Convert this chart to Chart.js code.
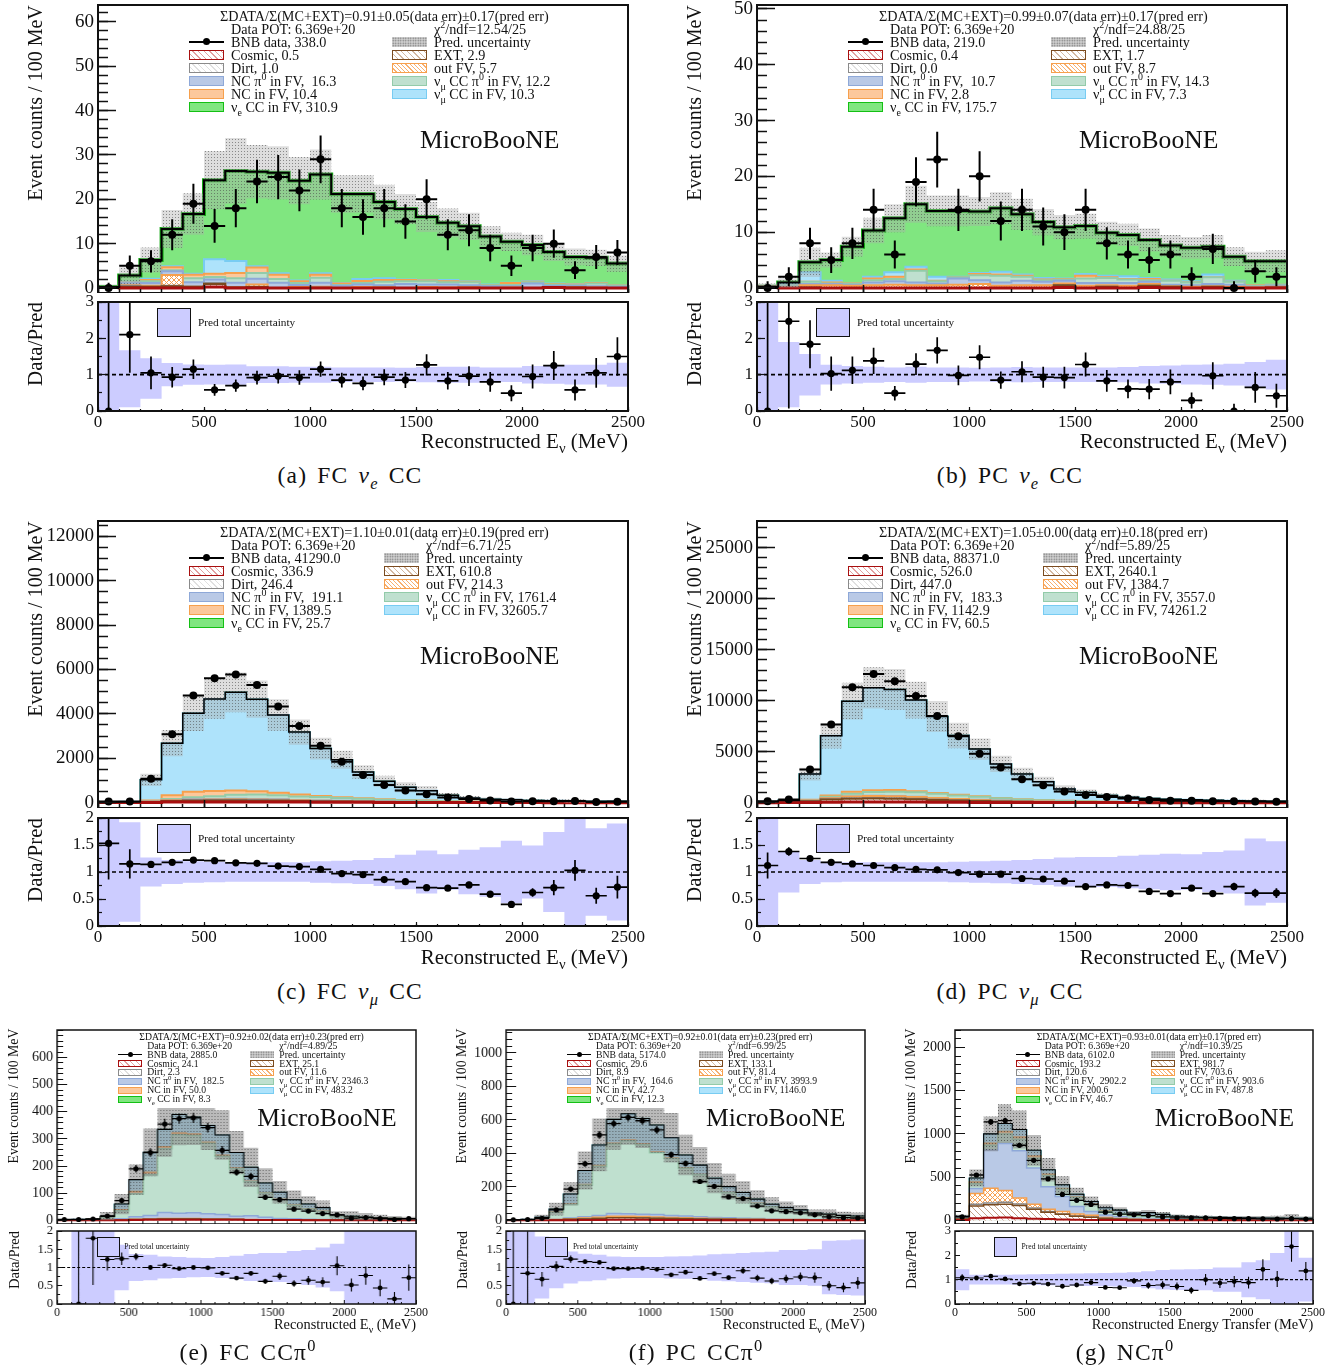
<!DOCTYPE html>
<html>
<head>
<meta charset="utf-8">
<title>MicroBooNE sidebands</title>
<script src="https://cdn.jsdelivr.net/npm/chart.js@4"></script>
<style>
  html, body { margin: 0; background: #fff; }
  #page { position: relative; width: 1339px; height: 1372px; overflow: hidden; font-family: "Liberation Serif", serif; color: #111; }
  #page canvas { position: absolute; }
  .t { position: absolute; white-space: nowrap; line-height: 1; }
  .t sub, .t sup { font-size: 70%; line-height: 0; }
  .sw { position: absolute; box-sizing: border-box; }
</style>
</head>
<body>
<div id="page"></div>
<script>
const binEdges = [0,100,200,300,400,500,600,700,800,900,1000,1100,1200,1300,1400,1500,1600,1700,1800,1900,2000,2100,2200,2300,2400,2500];
const binCenters = [50,150,250,350,450,550,650,750,850,950,1050,1150,1250,1350,1450,1550,1650,1750,1850,1950,2050,2150,2250,2350,2450];
const xTicks = [0,500,1000,1500,2000,2500];
const xMinor = binEdges;

// (a) FC nue CC
const aData = [0,5,6,12,19,14,18,24,25,22,29,18,16,18,15,20,12,13,9,5,9,10,4,7,8];
const aDataErr = [1.2,2.3,2.5,3.5,4.5,3.8,4.3,4.9,5,4.7,5.4,4.3,4,4.3,3.9,4.5,3.5,3.6,3,2.3,3,3.2,2,2.7,2.8];
const aCosmic = [0.1,0,0,0,0,0.2,0,0,0,0,0,0,0,0,0,0,0,0,0,0,0,0.1,0,0,0];
const aExt = [0.1,0.3,0.3,0.4,0.3,0.7,0.1,0.2,0,0,0,0,0,0,0,0,0,0,0,0,0,0.1,0.1,0,0];
const aDirt = [0,0.2,0,0.1,0,0.2,0,0.1,0,0,0.1,0,0,0.1,0,0,0,0.1,0,0,0,0,0,0.1,0];
const aOutFv = [0,0.1,0.2,2.4,0,0,0.1,0.5,0,0.2,0.2,0,0.2,0.1,0,0.2,0.1,0.1,0,0.1,0,0,0.1,0,0];
const aNcPi0 = [0,0.6,0.6,0.9,1,0.8,1,1.3,1.2,0.5,0.9,0.5,0.6,0.4,0.9,0.6,0.7,0.4,0.4,0.3,1,0.3,0.3,0.3,0.3];
const aNumuPi0 = [0,0.1,0.4,0.2,0.9,0.6,1,1.3,0.8,0.4,1.1,0.2,0.3,0.8,0.6,0.7,0.5,0.7,0.2,0.3,0.3,0.3,0.1,0.6,0.3];
const aNc = [0,0,0.3,0.7,0.8,0.7,1.2,1.2,1,0.4,0.7,0.3,0.5,0.4,0.3,0.2,0.2,0.1,0.1,0.4,0.1,0.1,0.2,0.1,0.1];
const aNumu = [0,0.1,0.3,0.2,0.2,3.3,2.7,0.3,0.3,0.2,0.3,0.1,0.4,0.4,0.1,0.1,0.3,0.1,0.1,0.1,0.1,0.1,0.1,0.1,0];
const aNue = [0,1.4,4.2,8.4,13.5,17.8,20.3,21.3,22.7,22.5,22.3,20.1,19.2,17.2,15.9,14.2,12.9,12.4,10.8,9.2,8.2,7.1,6.1,5.6,4.8];
const aRatio = [0,2.1,1.05,0.93,1.15,0.58,0.7,0.92,0.96,0.92,1.15,0.85,0.76,0.93,0.85,1.27,0.83,0.96,0.8,0.49,0.95,1.25,0.58,1.05,1.5];
const aRatioErr = [4,1.05,0.45,0.28,0.27,0.16,0.17,0.19,0.2,0.2,0.21,0.2,0.19,0.22,0.22,0.29,0.24,0.27,0.27,0.22,0.33,0.4,0.29,0.41,0.53];
const aBand = [3,0.67,0.45,0.32,0.28,0.27,0.28,0.23,0.23,0.22,0.22,0.2,0.2,0.2,0.19,0.21,0.22,0.22,0.2,0.2,0.24,0.25,0.27,0.27,0.33];
const aBandLo = [1,0.9,0.66,0.32,0.28,0.27,0.28,0.23,0.23,0.22,0.22,0.2,0.2,0.2,0.19,0.21,0.22,0.22,0.2,0.2,0.24,0.25,0.27,0.27,0.33];
const aYTicks = [0,10,20,30,40,50,60];
const aYMinor = [0,2,4,6,8,10,12,14,16,18,20,22,24,26,28,30,32,34,36,38,40,42,44,46,48,50,52,54,56,58,60,62];
const aLegend = ["338.0","0.5","1.0","16.3","10.4","310.9","2.9","5.7","12.2","10.3"];

// (b) PC nue CC
const bData = [0,2,8,5,8,14,6,19,23,14,20,12,14,11,10,14,8,6,5,6,2,7,0,3,2];
const bDataErr = [1.2,1.7,2.8,2.3,2.8,3.8,2.5,4.4,5,3.8,4.5,3.5,3.8,3.4,3.2,3.8,2.9,2.5,2.3,2.5,1.7,2.7,1.2,2,1.7];
const bCosmic = [0.1,0,0,0,0,0,0,0,0,0,0,0,0,0,0.1,0,0,0,0.1,0,0,0,0,0,0];
const bExt = [0.1,0,0.1,0,0,0,0,0,0,0,0,0,0,0,0.4,0,0.2,0,0.3,0.2,0,0.2,0,0,0.1];
const bDirt = [0,0,0,0,0,0,0,0,0,0,0,0,0,0,0,0,0,0,0,0,0,0,0,0,0];
const bOutFv = [0,0.1,0.4,0.5,0.4,0.5,0.6,0.5,0.5,0.6,0.7,0.4,0.5,0.5,0.3,0.4,0.3,0.4,0.3,0.1,0.2,0.1,0.2,0.1,0.1];
const bNcPi0 = [0,0.1,0.2,0.2,0.2,0.5,0.6,0.5,0.3,1.1,0.7,0.6,0.8,0.6,0.5,0.5,0.4,0.5,0.4,0.3,0.3,0.4,0.4,0.1,0.2];
const bNumuPi0 = [0,0.2,0.4,0.1,0.1,0.4,0.4,2.1,0.4,0.2,0.9,1.2,0.7,0.3,0.2,0.8,0.9,0.6,0.3,0.7,0.5,1.2,0.5,0.2,0.2];
const bNc = [0,0,0,0.2,0.1,0.3,0.4,0.2,0.1,0,0.2,0.2,0.2,0.1,0.1,0.5,0.1,0.1,0.2,0,0,0,0,0.1,0];
const bNumu = [0,0.3,1.7,0.3,0,0.3,0.8,0.5,0.7,0.1,0.2,0.5,0.2,0.3,0.1,0.3,0.3,0.5,0.2,0.2,0.2,0.5,0.2,0,0];
const bNue = [0,0.3,1.8,3.7,6.6,8.3,9.7,11.2,11.8,11.8,11,11.4,10.8,10,9.2,8.6,7.7,7.4,6.8,6.1,6,5,4.3,4.3,4.2];
const bRatio = [0,2.47,1.84,1.03,1.12,1.38,0.49,1.29,1.67,0.98,1.48,0.85,1.08,0.93,0.92,1.28,0.83,0.61,0.6,0.8,0.29,0.97,0,0.65,0.42];
const bRatioErr = [4,2.4,0.66,0.47,0.38,0.36,0.2,0.3,0.36,0.27,0.33,0.24,0.29,0.29,0.3,0.33,0.3,0.26,0.28,0.34,0.22,0.37,0.2,0.42,0.33];
const bBand = [3,0.9,0.57,0.27,0.24,0.22,0.2,0.22,0.2,0.2,0.19,0.2,0.21,0.2,0.2,0.2,0.2,0.21,0.24,0.25,0.27,0.28,0.3,0.35,0.41];
const bBandLo = [1,0.9,0.57,0.27,0.24,0.22,0.2,0.22,0.2,0.2,0.19,0.2,0.21,0.2,0.2,0.2,0.2,0.21,0.24,0.25,0.27,0.28,0.3,0.35,0.41];
const bYTicks = [0,10,20,30,40,50];
const bYMinor = [0,2,4,6,8,10,12,14,16,18,20,22,24,26,28,30,32,34,36,38,40,42,44,46,48,50];
const bLegend = ["219.0","0.4","0.0","10.7","2.8","175.7","1.7","8.7","14.3","7.3"];

// (c) FC numu CC
const cData = [50,55,1080,3080,4830,5600,5770,5300,4330,3450,2560,1840,1250,800,550,380,230,160,95,55,60,60,75,35,45];
const cDataErr = [10,10,33,55,70,75,76,73,66,59,51,43,35,28,23,20,15,13,10,8,8,8,9,6,7];
const cCosmic = [5,4,10,25,30,32,35,32,30,25,22,18,14,12,9,8,6,5,4,3,3,2,2,1,1];
const cExt = [10,10,25,50,60,65,65,60,55,45,35,30,25,20,15,12,9,6,5,4,3,3,2,1,1];
const cDirt = [2,3,8,15,25,25,30,30,25,18,15,12,9,7,5,4,3,2,2,1,1,1,1,0,0];
const cOutFv = [1,2,5,15,18,20,22,25,20,18,15,12,10,7,5,4,3,2,2,1,1,1,1,1,1];
const cNcPi0 = [0,1,5,12,16,20,22,22,20,17,14,11,8,6,5,3,3,2,1,1,1,1,0,0,0];
const cNumuPi0 = [0,1,10,45,90,130,180,195,180,160,150,130,110,85,70,60,40,30,25,20,15,15,10,5,5];
const cNc = [0,3,40,170,250,230,190,150,115,80,55,35,20,12,8,6,4,3,3,2,2,2,2,2,2];
const cNumu = [12,16,927,2350,3540,4150,4425,4145,3505,2815,2130,1680,1180,810,580,435,260,160,115,100,75,65,55,50,50];
const cNue = [0,0,0,0,1,1,2,2,2,2,2,2,2,1,1,1,1,1,1,1,1,1,1,0,0];
const cRatio = [1.53,1.15,1.14,1.18,1.22,1.21,1.17,1.16,1.11,1.1,1.05,0.97,0.95,0.86,0.82,0.71,0.7,0.76,0.59,0.4,0.62,0.71,1.03,0.56,0.72];
const cRatioErr = [0.67,0.27,0.04,0.03,0.03,0.02,0.02,0.02,0.02,0.02,0.03,0.03,0.03,0.04,0.04,0.04,0.05,0.06,0.06,0.05,0.08,0.14,0.19,0.15,0.21];
const cBand = [1.1,0.92,0.27,0.22,0.2,0.19,0.18,0.18,0.18,0.18,0.2,0.21,0.22,0.26,0.32,0.4,0.33,0.41,0.46,0.58,0.49,0.74,1.1,0.81,0.9];
const cYTicks = [0,2000,4000,6000,8000,10000,12000];
const cYMinor = [0,500,1000,1500,2000,2500,3000,3500,4000,4500,5000,5500,6000,6500,7000,7500,8000,8500,9000,9500,10000,10500,11000,11500,12000,12500];
const cLegend = ["41290.0","336.9","246.4","191.1","1389.5","25.7","610.8","214.3","1761.4","32605.7"];

// (d) PC numu CC
const dData = [130,300,3250,7650,11300,12600,11900,10450,8500,6500,4800,3450,2300,1700,1100,750,550,410,260,200,195,140,145,105,90];
const dDataErr = [12,18,57,87,106,112,109,102,92,80,69,59,48,41,33,27,23,20,16,14,14,12,12,10,9];
const dCosmic = [5,8,20,40,55,60,60,55,45,35,30,25,20,15,10,8,7,6,5,4,4,3,3,2,1];
const dExt = [25,40,130,260,340,350,330,280,220,170,130,90,70,50,35,30,20,15,12,10,10,8,6,6,3];
const dDirt = [2,5,15,30,45,55,55,50,45,35,30,22,15,10,8,6,5,4,3,3,2,1,1,0,0];
const dOutFv = [2,8,40,110,160,190,185,165,140,110,85,60,40,30,18,12,9,6,5,4,3,3,2,1,1];
const dNcPi0 = [0,1,5,12,18,22,22,20,18,15,12,9,7,6,5,3,2,2,1,1,1,1,0,0,0];
const dNumuPi0 = [0,2,30,130,260,370,430,440,400,350,300,230,170,130,95,70,45,30,20,15,10,10,8,6,6];
const dNc = [0,5,45,120,190,180,150,120,90,70,50,35,25,20,15,12,8,6,4,3,2,2,1,0,0];
const dNumu = [66,151,2514,5846,8879,10019,9863,8915,7487,5790,4608,3325,2449,1786,1151,857,602,469,349,289,247,201,179,155,139];
const dNue = [0,0,1,2,3,4,5,5,5,5,5,4,4,3,3,2,2,2,1,1,1,1,0,0,0];
const dRatio = [1.12,1.38,1.25,1.18,1.15,1.12,1.08,1.05,1.04,0.99,0.96,0.96,0.88,0.87,0.83,0.73,0.76,0.75,0.64,0.6,0.7,0.6,0.73,0.61,0.61];
const dRatioErr = [0.24,0.08,0.03,0.02,0.02,0.02,0.02,0.02,0.02,0.02,0.02,0.02,0.03,0.03,0.03,0.03,0.04,0.04,0.04,0.04,0.05,0.05,0.07,0.08,0.09];
const dBand = [1.1,0.38,0.22,0.19,0.18,0.18,0.18,0.18,0.18,0.19,0.2,0.21,0.22,0.24,0.27,0.28,0.28,0.3,0.32,0.34,0.33,0.37,0.4,0.62,0.57];
const dYTicks = [0,5000,10000,15000,20000,25000];
const dYMinor = [0,1000,2000,3000,4000,5000,6000,7000,8000,9000,10000,11000,12000,13000,14000,15000,16000,17000,18000,19000,20000,21000,22000,23000,24000,25000,26000,27000];
const dLegend = ["88371.0","526.0","447.0","183.3","1142.9","60.5","2640.1","1384.7","3557.0","74261.2"];

// (e) FC CC pi0
const eData = [3,3,5,16,73,190,250,355,375,378,342,258,177,162,85,76,41,34,25,20,8,10,6,3,6];
const eDataErr = [1.5,1.5,2,4,9,14,16,19,19,19,18,16,13,13,9,9,6,6,5,4.5,3,3,2.5,2,2.5];
const eCosmic = [0,0,0,0,0.5,1,2,2,2,2,2,2,2,1.5,1,1,1,0.5,0.5,0.5,0.5,0.5,0.5,0.5,0.5];
const eExt = [0,0,0,0.5,1,2,2,3,3,3,2,2,1.5,1,0.5,0.5,0.5,0.5,0.5,0.5,0.5,0.5,0.5,0.5,0.5];
const eDirt = [0,0,0,0,0,0.2,0.2,0.3,0.3,0.3,0.2,0.2,0.1,0.1,0.1,0.1,0.1,0,0,0,0,0,0,0,0];
const eOutFv = [0,0,0,0,0.2,0.8,1,1.5,1.5,1.5,1,1,0.6,0.5,0.4,0.3,0.2,0.1,0,0,0,0,0,0,0];
const eNcPi0 = [0,0,0,1,4,9,13,22,19,21,19,16,11,14,9,5,4,3,2,2,1,1,0.5,0.5,0.5];
const eNumuPi0 = [1,2,3,9,30,85,150,235,290,285,260,215,175,125,90,70,50,38,30,12,9,8,6,5,4];
const eNc = [0,0,0,1,3,8,9,7,6,5,4,4,3,2,1,1,0.5,0.5,0.5,0,0,0,0,0,0];
const eNumu = [1,1,1,3,21,44,73,64,68,62,61,74,56,51,35,25,19,17,13,5,4,2,1.5,0.5,0.5];
const eNue = [0,0,0,0.2,0.3,0.2,0.3,0.5,0.6,0.6,0.6,0.6,0.6,0.5,0.4,0.4,0.4,0.4,0.4,0.2,0.2,0.2,0.2,0.1,0.1];
const eRatio = [null,0,1.8,1.22,1.24,1.3,1,1.06,0.97,1,0.99,0.84,0.71,0.84,0.62,0.76,0.56,0.65,0.6,1.05,0.52,0.78,0.44,0.14,0.72];
const eRatioErr = [0,3,1.28,0.3,0.17,0.1,0.06,0.05,0.04,0.04,0.04,0.05,0.05,0.06,0.07,0.1,0.09,0.12,0.13,0.26,0.18,0.25,0.23,0.19,0.36];
const eBand = [0,1.2,1.2,1.1,0.62,0.37,0.35,0.3,0.29,0.27,0.26,0.29,0.32,0.37,0.4,0.4,0.45,0.48,0.55,0.65,1.2,1.2,1.2,1.2,1.2];
const eYTicks = [0,100,200,300,400,500,600];
const eYMinor = [0,20,40,60,80,100,120,140,160,180,200,220,240,260,280,300,320,340,360,380,400,420,440,460,480,500,520,540,560,580,600,620,640,660,680,700];
const eLegend = ["2885.0","24.1","2.3","182.5","50.0","8.3","25.1","11.6","2346.3","483.2"];

// (f) PC CC pi0
const fData = [3,5,12,62,187,338,510,578,615,595,540,392,340,232,203,140,130,85,57,52,45,33,21,16,14];
const fDataErr = [2,2.5,3.5,8,14,18,23,24,25,24,23,20,18,15,14,12,11,9,7.5,7,6.5,5.5,4.5,4,3.7];
const fCosmic = [0,0,0,0.5,1,1.5,2,3,3,3,2.5,2,2,1.5,1,1,1,0.5,0.5,0.5,0.5,0.5,0.5,0.5,0.5];
const fExt = [1,1,2,3,5,7,9,12,12,11,10,9,8,7,6,5,4,4,3,3,3,2,2,2,2];
const fDirt = [0,0,0,0.1,0.3,0.5,0.6,0.9,0.9,0.8,0.7,0.7,0.6,0.5,0.4,0.3,0.3,0.2,0.2,0.1,0.1,0.1,0,0,0];
const fOutFv = [0,0,0.5,1,3,5,7,9,9,8,7,6,5,4,3,3,2,2,2,1,1,1,1,0.5,0.5];
const fNcPi0 = [0,0,0.5,2,4,7,10,16,15,14,14,12,10,9,7,6,5,4,3,2,2,1,1,1,1];
const fNumuPi0 = [1,2,10,42,82,190,295,415,435,415,370,340,285,250,190,150,120,90,72,55,45,30,25,20,18];
const fNc = [0,0,0,1,2,3,4,5,5,5,4,3,2,2,1,1,1,1,0.5,0.5,0.5,0.5,0.5,0.5,0.2];
const fNumu = [1,2,5,17,60,83,122,141,156,151,160,120,77,55,43,35,33,25,15,14,10,8,7,5,4];
const fNue = [0,0,0,0.3,0.5,0.5,0.8,1,1.1,1,1,1,0.8,0.6,0.5,0.4,0.4,0.3,0.3,0.2,0.2,0.2,0.1,0.1,0.1];
const fRatio = [0,0.84,0.68,1.03,1.23,1.16,1.14,0.97,0.97,0.98,0.95,0.8,0.87,0.7,0.83,0.72,0.91,0.71,0.63,0.69,0.74,0.72,0.5,0.45,0.58];
const fRatioErr = [4,1.15,0.2,0.14,0.1,0.06,0.05,0.04,0.04,0.04,0.04,0.04,0.04,0.04,0.05,0.06,0.08,0.09,0.09,0.11,0.12,0.14,0.13,0.13,0.16];
const fBand = [1.2,1.2,0.85,0.57,0.44,0.38,0.35,0.3,0.29,0.29,0.29,0.3,0.31,0.33,0.36,0.38,0.4,0.42,0.43,0.48,0.48,0.5,0.73,0.75,0.77];
const fYTicks = [0,200,400,600,800,1000];
const fYMinor = [0,40,80,120,160,200,240,280,320,360,400,440,480,520,560,600,640,680,720,760,800,840,880,920,960,1000,1040,1080,1120];
const fLegend = ["5174.0","29.6","8.9","164.6","42.7","12.3","133.1","81.4","3993.9","1146.0"];

// (g) NC pi0
const gData = [40,525,1140,1155,870,695,480,300,232,185,95,72,65,55,40,30,28,28,22,20,20,18,16,20,15];
const gDataErr = [6,23,34,34,30,26,22,17,15,14,10,8.5,8,7.5,6.3,5.5,5.3,5.3,4.7,4.5,4.5,4.2,4,4.5,3.9];
const gCosmic = [3,26,30,32,26,20,15,10,7,5,4,3,2,2,1,1,1,1,1,1,1,0.5,0.5,0.5,0.5];
const gExt = [12,140,150,155,145,110,80,60,40,30,18,12,8,6,5,4,3,3,3,2,2,2,2,2,2];
const gDirt = [1,20,22,22,18,12,8,5,4,3,2,1,1,0.5,0.5,0.5,0.5,0.5,0.5,0,0,0,0,0,0];
const gOutFv = [3,125,170,137,69,46,27,29,22,20,8,5,3,3,2,2,1,1,1,1,1,1,1,1,1];
const gNcPi0 = [10,58,443,544,547,417,260,173,87,46,30,20,12,10,8,5,4,3,3,2,2,2,2,2,2];
const gNumuPi0 = [5,55,55,110,135,115,130,83,105,81,45,35,25,25,20,14,10,8,6,5,4,3,3,2,2];
const gNc = [2,20,22,30,25,25,15,10,5,5,3,2,2,2,2,1,1,1,1,1,1,1,1,1,1];
const gNumu = [10,45,108,89,85,64,49,40,31,28,35,40,30,40,30,20,20,18,18,20,18,17,16,15,15];
const gNue = [0,1,1,2,2,2,2,2,2,1,1,1,1,1,1,1,1,1,1,1,1,1,0.5,0.5,0.5];
const gRatio = [1.08,1.07,1.14,1.03,0.83,0.85,0.82,0.73,0.78,0.88,0.68,0.67,0.95,0.76,0.78,0.72,0.56,1,0.86,0.92,0.88,1.42,1.03,2.36,1.36];
const gRatioErr = [0.14,0.05,0.04,0.03,0.03,0.03,0.04,0.04,0.05,0.07,0.06,0.06,0.12,0.13,0.15,0.16,0.14,0.23,0.2,0.23,0.24,0.42,0.33,0.62,0.37];
const gBand = [0.43,0.2,0.2,0.2,0.21,0.22,0.23,0.24,0.25,0.26,0.27,0.28,0.3,0.35,0.4,0.42,0.43,0.44,0.5,0.5,0.72,0.8,1.1,2.1,0.9];
const gYTicks = [0,500,1000,1500,2000];
const gYMinor = [0,100,200,300,400,500,600,700,800,900,1000,1100,1200,1300,1400,1500,1600,1700,1800,1900,2000,2100,2200];
const gLegend = ["6102.0","193.2","120.6","2902.2","200.6","46.7","981.7","703.6","903.6","487.8"];

const ratio3Ticks = [0,1,2,3];
const ratio3Minor = [0,0.5,1,1.5,2,2.5,3];
const ratio2Ticks = [0,0.5,1,1.5,2];
const ratio2Minor = [0,0.25,0.5,0.75,1,1.25,1.5,1.75,2];

const evLabel = 'Reconstructed E<sub>ν</sub> (MeV)';

// one entry per sub figure, layers go bottom to top of the stack
const panels = [
  { layers:[aCosmic,aExt,aDirt,aOutFv,aNcPi0,aNumuPi0,aNc,aNumu,aNue], data:aData, err:aDataErr, ratio:aRatio, ratioErr:aRatioErr, band:aBand, bandLo:aBandLo, yTicks:aYTicks, yMinor:aYMinor, ratioTicks:ratio3Ticks, ratioMinor:ratio3Minor, ymin:-1.13, ymax:63.8, rmax:3, legend:aLegend,
    head:'ΣDATA/Σ(MC+EXT)=0.91±0.05(data err)±0.17(pred err)', chi:'χ<sup>2</sup>/ndf=12.54/25', xTitle:evLabel, caption:'(a) FC <i>ν<sub>e</sub></i> CC',
    box:{l:98,w:530,t:5,h:288,rt:302,rh:109,capY:476,capX:350,xtY:441,ytX:34.5,rightSw:294,big:true,nueW:4} },
  { layers:[bCosmic,bExt,bDirt,bOutFv,bNcPi0,bNumuPi0,bNc,bNumu,bNue], data:bData, err:bDataErr, ratio:bRatio, ratioErr:bRatioErr, band:bBand, bandLo:bBandLo, yTicks:bYTicks, yMinor:bYMinor, ratioTicks:ratio3Ticks, ratioMinor:ratio3Minor, ymin:-0.9, ymax:50.7, rmax:3, legend:bLegend,
    head:'ΣDATA/Σ(MC+EXT)=0.99±0.07(data err)±0.17(pred err)', chi:'χ<sup>2</sup>/ndf=24.88/25', xTitle:evLabel, caption:'(b) PC <i>ν<sub>e</sub></i> CC',
    box:{l:757,w:530,t:5,h:288,rt:302,rh:109,capY:476,capX:1010,xtY:441,ytX:693.5,rightSw:294,big:true,nueW:4} },
  { layers:[cCosmic,cExt,cDirt,cOutFv,cNcPi0,cNumuPi0,cNc,cNumu,cNue], data:cData, err:cDataErr, ratio:cRatio, ratioErr:cRatioErr, band:cBand, yTicks:cYTicks, yMinor:cYMinor, ratioTicks:ratio2Ticks, ratioMinor:ratio2Minor, ymin:-240, ymax:12690, rmax:2, legend:cLegend,
    head:'ΣDATA/Σ(MC+EXT)=1.10±0.01(data err)±0.19(pred err)', chi:'χ<sup>2</sup>/ndf=6.71/25', xTitle:evLabel, caption:'(c) FC <i>ν<sub>μ</sub></i> CC',
    box:{l:98,w:530,t:521,h:287,rt:818,rh:108,capY:992,capX:350,xtY:957,ytX:34.5,rightSw:286,big:true,nueW:0} },
  { layers:[dCosmic,dExt,dDirt,dOutFv,dNcPi0,dNumuPi0,dNc,dNumu,dNue], data:dData, err:dDataErr, ratio:dRatio, ratioErr:dRatioErr, band:dBand, yTicks:dYTicks, yMinor:dYMinor, ratioTicks:ratio2Ticks, ratioMinor:ratio2Minor, ymin:-521, ymax:27600, rmax:2, legend:dLegend,
    head:'ΣDATA/Σ(MC+EXT)=1.05±0.00(data err)±0.18(pred err)', chi:'χ<sup>2</sup>/ndf=5.89/25', xTitle:evLabel, caption:'(d) PC <i>ν<sub>μ</sub></i> CC',
    box:{l:757,w:530,t:521,h:287,rt:818,rh:108,capY:992,capX:1010,xtY:957,ytX:693.5,rightSw:286,big:true,nueW:0} },
  { layers:[eCosmic,eExt,eDirt,eOutFv,eNcPi0,eNumuPi0,eNc,eNumu,eNue], data:eData, err:eDataErr, ratio:eRatio, ratioErr:eRatioErr, band:eBand, yTicks:eYTicks, yMinor:eYMinor, ratioTicks:ratio2Ticks, ratioMinor:ratio2Minor, ymin:-13.5, ymax:701.6, rmax:2, legend:eLegend,
    head:'ΣDATA/Σ(MC+EXT)=0.92±0.02(data err)±0.23(pred err)', chi:'χ<sup>2</sup>/ndf=4.89/25', xTitle:evLabel, caption:'(e) FC CCπ<sup>0</sup>',
    box:{l:57.3,w:358.7,t:1030,h:194,rt:1231,rh:73,capY:1353,capX:248,xtY:1324,ytX:14,rightSw:193,big:false,nueW:0} },
  { layers:[fCosmic,fExt,fDirt,fOutFv,fNcPi0,fNumuPi0,fNc,fNumu,fNue], data:fData, err:fDataErr, ratio:fRatio, ratioErr:fRatioErr, band:fBand, yTicks:fYTicks, yMinor:fYMinor, ratioTicks:ratio2Ticks, ratioMinor:ratio2Minor, ymin:-21.8, ymax:1137, rmax:2, legend:fLegend,
    head:'ΣDATA/Σ(MC+EXT)=0.92±0.01(data err)±0.23(pred err)', chi:'χ<sup>2</sup>/ndf=6.99/25', xTitle:evLabel, caption:'(f) PC CCπ<sup>0</sup>',
    box:{l:506,w:358.7,t:1030,h:194,rt:1231,rh:73,capY:1353,capX:696,xtY:1324,ytX:462,rightSw:193,big:false,nueW:0} },
  { layers:[gCosmic,gExt,gDirt,gOutFv,gNcPi0,gNumuPi0,gNc,gNumu,gNue], data:gData, err:gDataErr, ratio:gRatio, ratioErr:gRatioErr, band:gBand, yTicks:gYTicks, yMinor:gYMinor, ratioTicks:ratio3Ticks, ratioMinor:ratio3Minor, ymin:-42, ymax:2204, rmax:3, legend:gLegend,
    head:'ΣDATA/Σ(MC+EXT)=0.93±0.01(data err)±0.17(pred err)', chi:'χ<sup>2</sup>/ndf=10.39/25', xTitle:'Reconstructed Energy Transfer (MeV)', caption:'(g) NCπ<sup>0</sup>',
    box:{l:954.7,w:358.6,t:1030,h:194,rt:1231,rh:73,capY:1353,capX:1125,xtY:1324,ytX:911,rightSw:196,big:false,nueW:0} }
];

const page = document.getElementById('page');

function hatchPattern(color) {
  const c = document.createElement('canvas');
  const g = c.getContext('2d');
  c.width = 6; c.height = 6;
  g.fillStyle = '#fff';
  g.fillRect(0, 0, 6, 6);
  g.strokeStyle = color;
  g.lineWidth = 0.8;
  g.beginPath();
  g.moveTo(-1, -1); g.lineTo(7, 7);
  g.moveTo(5, -1); g.lineTo(7, 1);
  g.moveTo(-1, 5); g.lineTo(1, 7);
  g.stroke();
  return g.createPattern(c, 'repeat');
}

function crossPattern(color) {
  const c = document.createElement('canvas');
  const g = c.getContext('2d');
  c.width = 5; c.height = 5;
  g.fillStyle = '#fff';
  g.fillRect(0, 0, 5, 5);
  g.strokeStyle = color;
  g.lineWidth = 1;
  g.beginPath();
  g.moveTo(0, 0); g.lineTo(5, 5);
  g.moveTo(5, 0); g.lineTo(0, 5);
  g.stroke();
  return g.createPattern(c, 'repeat');
}

function dotsPattern(light, dark) {
  const c = document.createElement('canvas');
  const g = c.getContext('2d');
  c.width = 3; c.height = 3;
  g.fillStyle = light;
  g.fillRect(0, 0, 3, 3);
  g.fillStyle = dark;
  g.fillRect(0, 0, 1, 1);
  return g.createPattern(c, 'repeat');
}

const dotBig = dotsPattern('rgba(170,170,170,0.4)', 'rgba(70,70,70,0.55)');
const dotSmall = dotsPattern('rgba(130,130,130,0.55)', 'rgba(60,60,60,0.65)');
const layerStyles = [
  { line:'#a80f0f', fill:hatchPattern('#d88080') },
  { line:'#7a4a1e', fill:hatchPattern('#b58a68') },
  { line:'#8a8a8a', fill:hatchPattern('#d2d2d2') },
  { line:'#f6a04d', fill:crossPattern('#f8a050') },
  { line:'#8ea8d8', fill:'#b9c9e6' },
  { line:'#93cba9', fill:'#bfe0cf' },
  { line:'#f6a04d', fill:'#fcc89c' },
  { line:'#78ccf2', fill:'#aee3fb' },
  { line:'#14a814', fill:'#80e680' }
];

function stepPoints(vals) {
  return binEdges.map((x, i) => ({ x: x, y: i < vals.length ? vals[i] : vals[vals.length - 1] }));
}

// error bars as one line dataset, broken with null points
function errorPoints(vals, errs) {
  const pts = [];
  binCenters.forEach((x, i) => {
    if (vals[i] === null) return;
    pts.push({ x: x - 50, y: vals[i] }, { x: x + 50, y: vals[i] }, { x: x, y: null });
    pts.push({ x: x, y: Math.max(0, vals[i] - errs[i]) }, { x: x, y: vals[i] + errs[i] }, { x: x, y: null });
  });
  return pts;
}

const framePlugin = {
  id: 'frame',
  afterDraw(chart, args, opts) {
    const a = chart.chartArea, g = chart.ctx;
    g.save();
    g.strokeStyle = opts.color;
    g.lineWidth = opts.width;
    g.strokeRect(a.left, a.top, a.right - a.left, a.bottom - a.top);
    g.restore();
  }
};

function noPadding(s) {
  s.paddingLeft = 0; s.paddingRight = 0; s.paddingTop = 0; s.paddingBottom = 0;
}

function makeScales(yMaj, yMin, yLo, yHi, cfg) {
  const axisX = (major) => ({
    type: 'linear', position: 'bottom', min: 0, max: 2500, weight: major ? 0 : -1,
    afterBuildTicks: s => { s.ticks = (major ? xTicks : xMinor).map(v => ({ value: v })); },
    afterFit: s => { s.height = major ? cfg.bottom : 0; noPadding(s); },
    border: { display: false },
    grid: { drawOnChartArea: false, z: 2, tickLength: -(major ? cfg.xMaj : cfg.xMin), tickColor: '#111', tickWidth: cfg.tickW },
    ticks: { display: major && cfg.xLabels, autoSkip: false, maxRotation: 0, padding: cfg.xMaj + cfg.xPad, color: '#111', font: { family: 'Liberation Serif', size: cfg.xFont }, callback: v => String(v) }
  });
  const axisY = (major) => ({
    type: 'linear', position: 'left', min: yLo, max: yHi, weight: major ? 0 : -1,
    afterBuildTicks: s => { s.ticks = (major ? yMaj : yMin).filter(v => v <= yHi).map(v => ({ value: v })); },
    afterFit: s => { s.width = major ? cfg.left : 0; noPadding(s); },
    border: { display: false },
    grid: { drawOnChartArea: false, z: 2, tickLength: -(major ? cfg.yMaj : cfg.yMin), tickColor: '#111', tickWidth: cfg.tickW },
    ticks: { display: major, autoSkip: false, padding: cfg.yMaj + 4, color: '#111', font: { family: 'Liberation Serif', size: cfg.yFont }, callback: v => String(v) }
  });
  return { x: axisX(true), xm: axisX(false), y: axisY(true), ym: axisY(false) };
}

function addCanvas(l, t, w, h) {
  const c = document.createElement('canvas');
  c.width = w; c.height = h;
  c.style.left = l + 'px'; c.style.top = t + 'px';
  c.style.width = w + 'px'; c.style.height = h + 'px';
  page.appendChild(c);
  return c;
}

function baseOptions(scales, frameW) {
  return {
    responsive: false, animation: false, devicePixelRatio: 1,
    layout: { autoPadding: false, padding: { left: 0, top: 10, right: 24, bottom: 0 } },
    plugins: { legend: { display: false }, tooltip: { enabled: false }, frame: { color: '#111', width: frameW } },
    elements: { point: { radius: 0 } },
    scales: scales
  };
}

function layerWidth(b, i) {
  if (i === 8) return b.nueW || (b.big ? 1.5 : 1);
  if (i === 0) return b.big ? 3 : 2;
  return b.big ? 2 : 1.5;
}

function drawMain(p) {
  const b = p.box, big = b.big;
  const cum = [];
  const total = p.layers.reduce((run, vals) => {
    const next = vals.map((v, i) => run[i] + v);
    cum.push(next);
    return next;
  }, binCenters.map(() => 0));

  const datasets = [
    { data: binCenters.map((x, i) => ({ x: x, y: p.data[i] })), showLine: false, pointRadius: big ? 4 : 2.6, pointBackgroundColor: '#000', pointBorderWidth: 0 },
    { data: errorPoints(p.data, p.err), stepped: true, borderColor: '#000', borderWidth: big ? 2 : 1.3, spanGaps: false },
    { data: stepPoints(total), stepped: true, borderColor: '#000', borderWidth: big ? (b.nueW ? 2 : 1.5) : 1.1 },
    { data: stepPoints(total.map((t, i) => t * (1 + p.band[i]))), stepped: true, borderWidth: 0, backgroundColor: big ? dotBig : dotSmall, fill: '+1' },
    { data: stepPoints(total.map((t, i) => Math.max(0, t * (1 - p.band[i])))), stepped: true, borderWidth: 0 }
  ];
  for (let i = 0; i < cum.length; i++) {
    datasets.push({ data: stepPoints(cum[i]), stepped: true, borderColor: layerStyles[i].line, backgroundColor: layerStyles[i].fill, borderWidth: layerWidth(b, i), fill: 'origin' });
  }

  const cfg = big
    ? { left: 64, bottom: 0, xMaj: 8, xMin: 4, yMaj: 18, yMin: 10, tickW: 1.5, xPad: 2, xFont: 17, yFont: 19, xLabels: false }
    : { left: 50, bottom: 0, xMaj: 5, xMin: 3, yMaj: 10, yMin: 6, tickW: 1, xPad: 2, xFont: 12, yFont: 14, xLabels: false };
  const w = cfg.left + b.w + 24;
  const c = addCanvas(b.l - cfg.left, b.t - 10, w, b.h + 10);
  new Chart(c.getContext('2d'), {
    type: 'line',
    data: { datasets: datasets },
    options: baseOptions(makeScales(p.yTicks, p.yMinor, p.ymin, p.ymax, cfg), big ? 2 : 1.5),
    plugins: [framePlugin]
  });
}

function drawRatio(p) {
  const b = p.box, big = b.big;
  const lo = p.bandLo || p.band;
  const datasets = [
    { data: binCenters.map((x, i) => ({ x: x, y: p.ratio[i] })), showLine: false, pointRadius: big ? 3.6 : 2.4, pointBackgroundColor: '#000', pointBorderWidth: 0 },
    { data: errorPoints(p.ratio, p.ratioErr), stepped: true, borderColor: '#000', borderWidth: big ? 1.7 : 1.1, spanGaps: false },
    { data: [{ x: 0, y: 1 }, { x: 2500, y: 1 }], borderColor: '#000', borderWidth: big ? 1.7 : 1.1, borderDash: big ? [4, 3] : [3, 2] },
    { data: stepPoints(p.band.map(v => 1 + v)), stepped: true, borderWidth: 0, backgroundColor: '#ccccff', fill: '+1' },
    { data: stepPoints(lo.map(v => 1 - v)), stepped: true, borderWidth: 0 }
  ];
  const cfg = big
    ? { left: 64, bottom: 30, xMaj: 4, xMin: 2, yMaj: 8, yMin: 4, tickW: 1.2, xPad: 1, xFont: 17, yFont: 17, xLabels: true }
    : { left: 50, bottom: 20, xMaj: 4, xMin: 2, yMaj: 5, yMin: 3, tickW: 1, xPad: 2, xFont: 12, yFont: 12.5, xLabels: true };
  const w = cfg.left + b.w + 24;
  const c = addCanvas(b.l - cfg.left, b.rt - 10, w, b.rh + 10 + cfg.bottom);
  new Chart(c.getContext('2d'), {
    type: 'line',
    data: { datasets: datasets },
    options: baseOptions(makeScales(p.ratioTicks, p.ratioMinor, 0, p.rmax, cfg), big ? 2 : 1.5),
    plugins: [framePlugin]
  });
}

function addText(html, x, y, size, align, rotate) {
  const d = document.createElement('div');
  d.className = 't';
  d.innerHTML = html;
  d.style.left = x + 'px';
  d.style.top = y + 'px';
  d.style.fontSize = size + 'px';
  const tx = align === 'right' ? '-100%' : align === 'center' ? '-50%' : '0';
  d.style.transform = 'translate(' + tx + ',-50%)' + (rotate ? ' rotate(-90deg)' : '');
  page.appendChild(d);
  return d;
}

function addSwatch(x, y, w, h, css) {
  const d = document.createElement('div');
  d.className = 'sw';
  d.style.left = x + 'px'; d.style.top = y + 'px';
  d.style.width = w + 'px'; d.style.height = h + 'px';
  d.style.cssText += css;
  page.appendChild(d);
  return d;
}

const hatch = c => 'background:repeating-linear-gradient(45deg,#fff 0,#fff 3px,' + c + ' 3px,' + c + ' 4px);';
const swatchCss = {
  cosmic: 'border-color:#a80f0f;' + hatch('#e4a0a0'),
  dirt: 'border-color:#8a8a8a;' + hatch('#e0e0e0'),
  ncpi0: 'border-color:#8ea8d8;background:#b9c9e6;',
  nc: 'border-color:#f6a04d;background:#fcc89c;',
  nue: 'border-color:#14c014;background:#80e680;',
  ext: 'border-color:#7a4a1e;' + hatch('#d4b8a0'),
  outfv: 'border-color:#f6a04d;background:repeating-linear-gradient(45deg,#fff 0,#fff 2px,#f8b070 2px,#f8b070 3px),#fff;',
  numupi0: 'border-color:#93cba9;background:#bfe0cf;',
  numu: 'border-color:#78ccf2;background:#aee3fb;',
  unc: 'background:radial-gradient(#777 0.7px,transparent 0.9px) 0 0/2.5px 2.5px,#cfcfcf;'
};

function drawText(p) {
  const b = p.box, big = b.big;
  const f = big ? 14.2 : 9.7;
  const rows = big ? [11, 23.8, 36.8, 49.8, 62.8, 75.6, 88.6, 101.6] : [6.7, 15.7, 24.7, 33.7, 42, 51, 60, 69];
  const tl = big ? 133 : 90;
  const sl = big ? 91 : 61;
  const sw = big ? 35 : 24;
  const sh = big ? 10 : 7;
  const sr = b.rightSw;
  const tr = sr + (big ? 42 : 29);
  const L = p.legend;
  const edge = 'border-style:solid;border-width:' + (big ? 1.5 : 1) + 'px;';

  // legend box is opaque, it hides the top of the uncertainty band
  addSwatch(b.l + sl - 5, b.t + 3, (big ? 400 : 258), rows[7] + (big ? 8 : 6), 'background:#fff;');

  addText(p.head, b.l + (big ? 122 : 82), b.t + rows[0], f);
  addText('Data POT: 6.369e+20', b.l + tl, b.t + rows[1], f);
  addText(p.chi, b.l + tr, b.t + rows[1], f);

  const leftNames = ['BNB data, ', 'Cosmic, ', 'Dirt, ', 'NC π<sup>0</sup> in FV,&nbsp; ', 'NC in FV, ', 'ν<sub>e</sub> CC in FV, '];
  const leftCss = [null, 'cosmic', 'dirt', 'ncpi0', 'nc', 'nue'];
  leftNames.forEach((n, i) => {
    const y = b.t + rows[i + 2];
    addText(n + L[i], b.l + tl, y, f);
    if (i === 0) {
      addSwatch(b.l + sl, y - 1, sw, big ? 2 : 1.5, 'background:#000;');
      addSwatch(b.l + sl + sw / 2 - (big ? 3.5 : 2.5), y - (big ? 3.5 : 2.5), big ? 7 : 5, big ? 7 : 5, 'background:#000;border-radius:50%;');
    } else {
      addSwatch(b.l + sl, y - sh / 2, sw, sh, edge + swatchCss[leftCss[i]]);
    }
  });
  const rightNames = ['EXT, ', 'out FV, ', 'ν<sub>μ</sub> CC π<sup>0</sup> in FV, ', 'ν<sub>μ</sub> CC in FV, '];
  const rightCss = ['ext', 'outfv', 'numupi0', 'numu'];
  addText('Pred. uncertainty', b.l + tr, b.t + rows[2], f);
  addSwatch(b.l + sr, b.t + rows[2] - sh / 2, sw, sh, swatchCss.unc);
  rightNames.forEach((n, i) => {
    const y = b.t + rows[i + 3];
    addText(n + L[i + 6], b.l + tr, y, f);
    addSwatch(b.l + sr, y - sh / 2, sw, sh, edge + swatchCss[rightCss[i]]);
  });

  addText('MicroBooNE', big ? b.l + 322 : b.l + 200, big ? b.t + 135 : 1118, 25.6);

  // ratio legend
  const rsw = big ? 34 : 23, rsh = big ? 29 : 20;
  const rx = b.l + (big ? 59 : 39.4);
  addSwatch(rx, b.rt + 6, rsw, rsh, 'background:#ccccff;border:' + (big ? 1.5 : 1) + 'px solid #111;');
  addText('Pred total uncertainty', rx + rsw + (big ? 7 : 4.5), b.rt + 6 + rsh / 2, big ? 11.3 : 7.6);

  // axis titles and caption
  addText('Event counts / 100 MeV', b.ytX, b.t + (big ? 98 : 66), big ? 20 : 13.8, 'center', true);
  addText('Data/Pred', b.ytX, b.rt + (big ? 42 : 29), big ? 21 : 14.5, 'center', true);
  addText(p.xTitle, b.l + b.w, b.xtY, big ? 21 : 14.4, 'right');
  const cap = addText(p.caption, b.capX, b.capY, 23.5, 'center');
  cap.style.letterSpacing = '1.2px';
  cap.style.wordSpacing = '3px';
}

panels.forEach(p => {
  drawMain(p);
  drawRatio(p);
  drawText(p);
});
</script>
</body>
</html>
